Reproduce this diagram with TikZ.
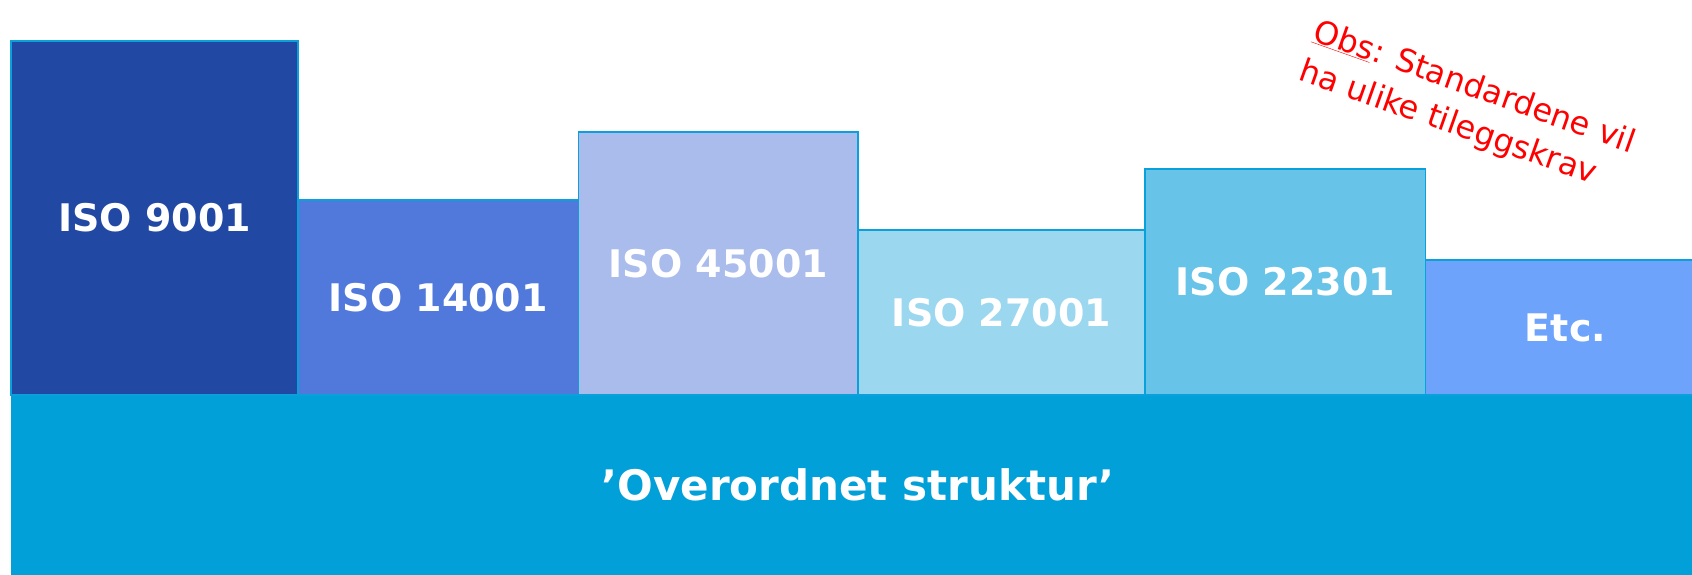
\documentclass[tikz,border=0pt]{standalone}
\usepackage{fontspec}
\setmainfont{DejaVu Sans}
\usepackage{tikz}
\usetikzlibrary{positioning}
\definecolor{edgeblue}{RGB}{10,160,220}
\definecolor{baseblue}{RGB}{2,160,217}
\definecolor{cninek}{RGB}{33,72,163}
\definecolor{cfourteenk}{RGB}{80,121,219}
\definecolor{cfortyfivek}{RGB}{169,188,236}
\definecolor{ctwentysevenk}{RGB}{156,215,240}
\definecolor{ctwentytwok}{RGB}{104,195,232}
\definecolor{cetc}{RGB}{110,163,252}
\tikzstyle{stdbox} = [draw=edgeblue, line width=1.5pt, rectangle, anchor=south west, inner sep=0pt, outer sep=0pt, text=white, font=\fontsize{38}{44}\selectfont\bfseries]
\tikzstyle{basebox} = [fill=baseblue, rectangle, anchor=south west, inner sep=0pt, outer sep=0pt, minimum width=1681, minimum height=180, text=white, font=\fontsize{42}{48}\selectfont\bfseries]
\tikzstyle{note} = [text=red, align=left, rotate=-19.5, inner sep=0pt, font=\fontsize{32}{42}\selectfont]

\begin{document}
\begin{tikzpicture}[x=1pt, y=-1pt]
		\useasboundingbox (0,0) rectangle (1692,575);
		\node [basebox] (base) at (11,575) {\hspace*{13pt}’Overordnet struktur’};
		\node [stdbox, fill=cninek, minimum width=287, minimum height=354] (iso9001) at (base.north west) {ISO 9001};
		\node [stdbox, fill=cfourteenk, minimum width=280.5, minimum height=195] (iso14001) at (iso9001.south east) {ISO 14001};
		\node [stdbox, fill=cfortyfivek, minimum width=279.5, minimum height=263] (iso45001) at (iso14001.south east) {ISO 45001};
		\node [stdbox, fill=ctwentysevenk, minimum width=287, minimum height=165] (iso27001) at (iso45001.south east) {ISO 27001};
		\node [stdbox, fill=ctwentytwok, minimum width=280.5, minimum height=226] (iso22301) at (iso27001.south east) {ISO 22301};
		\node [stdbox, fill=cetc, minimum width=268, minimum height=135] (etc) at (iso22301.south east) {\hspace*{12pt}Etc.};
		\node [note] (obs) at (1467,108) {\underline{Obs}: Standardene vil\\ha ulike tileggskrav};
	\end{tikzpicture}
\end{document}
